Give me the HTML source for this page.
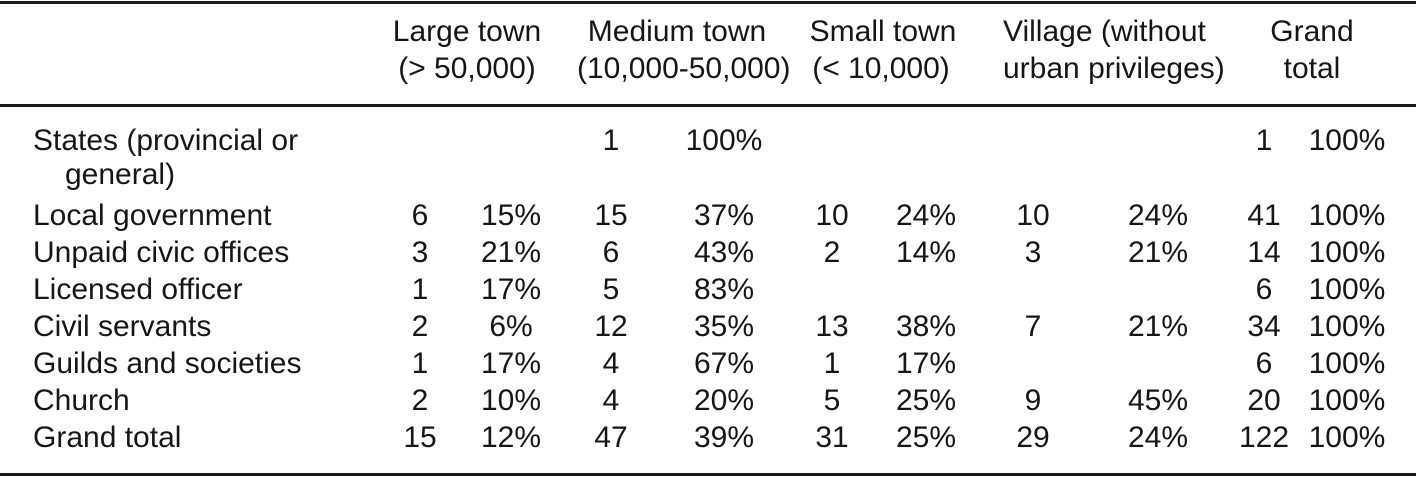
<!DOCTYPE html>
<html>
<head>
<meta charset="utf-8">
<style>
  html, body { margin:0; padding:0; background:#fff; }
  body { width:1416px; height:478px; position:relative; overflow:hidden;
         font-family:"Liberation Sans", Arial, sans-serif; font-size:30px; color:#161616; }
  .t { position:absolute; line-height:30px; white-space:nowrap; }
  .c { width:200px; text-align:center; }
  .rule { position:absolute; left:0; width:1416px; background:#1a1a1a; }
</style>
</head>
<body>
<div class="rule" style="top:1px;height:3px;"></div>
<div class="rule" style="top:104px;height:3px;"></div>
<div class="rule" style="top:473px;height:3px;"></div>

<!-- headers -->
<div class="t c" style="left:367px;top:17px;">Large town</div>
<div class="t c" style="left:367px;top:54px;">(&gt; 50,000)</div>
<div class="t c" style="left:577px;top:17px;">Medium town</div>
<div class="t c" style="left:577px;top:54px;">(10,000-50,000)</div>
<div class="t c" style="left:783px;top:17px;">Small town</div>
<div class="t c" style="left:781px;top:54px;">(&lt; 10,000)</div>
<div class="t c" style="left:1003px;top:17px;">Village (without</div>
<div class="t c" style="left:1003px;top:54px;">urban privileges)</div>
<div class="t c" style="left:1212px;top:17px;">Grand</div>
<div class="t c" style="left:1212px;top:54px;">total</div>

<!-- row labels -->
<div class="t" style="left:33px;top:126px;">States (provincial or</div>
<div class="t" style="left:65px;top:160px;">general)</div>
<div class="t" style="left:33px;top:201px;">Local government</div>
<div class="t" style="left:33px;top:238px;">Unpaid civic offices</div>
<div class="t" style="left:33px;top:275px;">Licensed officer</div>
<div class="t" style="left:33px;top:312px;">Civil servants</div>
<div class="t" style="left:33px;top:349px;">Guilds and societies</div>
<div class="t" style="left:33px;top:386px;">Church</div>
<div class="t" style="left:33px;top:423px;">Grand total</div>

<!-- States row -->
<div class="t c" style="left:511px;top:126px;">1</div>
<div class="t c" style="left:624px;top:126px;">100%</div>
<div class="t c" style="left:1164px;top:126px;">1</div>
<div class="t c" style="left:1247px;top:126px;">100%</div>

<!-- Local government (top 201) -->
<div class="t c" style="left:320px;top:201px;">6</div>
<div class="t c" style="left:411px;top:201px;">15%</div>
<div class="t c" style="left:511px;top:201px;">15</div>
<div class="t c" style="left:624px;top:201px;">37%</div>
<div class="t c" style="left:732px;top:201px;">10</div>
<div class="t c" style="left:826px;top:201px;">24%</div>
<div class="t c" style="left:933px;top:201px;">10</div>
<div class="t c" style="left:1058px;top:201px;">24%</div>
<div class="t c" style="left:1164px;top:201px;">41</div>
<div class="t c" style="left:1247px;top:201px;">100%</div>

<!-- Unpaid civic offices (top 238) -->
<div class="t c" style="left:320px;top:238px;">3</div>
<div class="t c" style="left:411px;top:238px;">21%</div>
<div class="t c" style="left:511px;top:238px;">6</div>
<div class="t c" style="left:624px;top:238px;">43%</div>
<div class="t c" style="left:732px;top:238px;">2</div>
<div class="t c" style="left:826px;top:238px;">14%</div>
<div class="t c" style="left:933px;top:238px;">3</div>
<div class="t c" style="left:1058px;top:238px;">21%</div>
<div class="t c" style="left:1164px;top:238px;">14</div>
<div class="t c" style="left:1247px;top:238px;">100%</div>

<!-- Licensed officer (top 275) -->
<div class="t c" style="left:320px;top:275px;">1</div>
<div class="t c" style="left:411px;top:275px;">17%</div>
<div class="t c" style="left:511px;top:275px;">5</div>
<div class="t c" style="left:624px;top:275px;">83%</div>
<div class="t c" style="left:1164px;top:275px;">6</div>
<div class="t c" style="left:1247px;top:275px;">100%</div>

<!-- Civil servants (top 312) -->
<div class="t c" style="left:320px;top:312px;">2</div>
<div class="t c" style="left:411px;top:312px;">6%</div>
<div class="t c" style="left:511px;top:312px;">12</div>
<div class="t c" style="left:624px;top:312px;">35%</div>
<div class="t c" style="left:732px;top:312px;">13</div>
<div class="t c" style="left:826px;top:312px;">38%</div>
<div class="t c" style="left:933px;top:312px;">7</div>
<div class="t c" style="left:1058px;top:312px;">21%</div>
<div class="t c" style="left:1164px;top:312px;">34</div>
<div class="t c" style="left:1247px;top:312px;">100%</div>

<!-- Guilds and societies (top 349) -->
<div class="t c" style="left:320px;top:349px;">1</div>
<div class="t c" style="left:411px;top:349px;">17%</div>
<div class="t c" style="left:511px;top:349px;">4</div>
<div class="t c" style="left:624px;top:349px;">67%</div>
<div class="t c" style="left:732px;top:349px;">1</div>
<div class="t c" style="left:826px;top:349px;">17%</div>
<div class="t c" style="left:1164px;top:349px;">6</div>
<div class="t c" style="left:1247px;top:349px;">100%</div>

<!-- Church (top 386) -->
<div class="t c" style="left:320px;top:386px;">2</div>
<div class="t c" style="left:411px;top:386px;">10%</div>
<div class="t c" style="left:511px;top:386px;">4</div>
<div class="t c" style="left:624px;top:386px;">20%</div>
<div class="t c" style="left:732px;top:386px;">5</div>
<div class="t c" style="left:826px;top:386px;">25%</div>
<div class="t c" style="left:933px;top:386px;">9</div>
<div class="t c" style="left:1058px;top:386px;">45%</div>
<div class="t c" style="left:1164px;top:386px;">20</div>
<div class="t c" style="left:1247px;top:386px;">100%</div>

<!-- Grand total (top 423) -->
<div class="t c" style="left:320px;top:423px;">15</div>
<div class="t c" style="left:411px;top:423px;">12%</div>
<div class="t c" style="left:511px;top:423px;">47</div>
<div class="t c" style="left:624px;top:423px;">39%</div>
<div class="t c" style="left:732px;top:423px;">31</div>
<div class="t c" style="left:826px;top:423px;">25%</div>
<div class="t c" style="left:933px;top:423px;">29</div>
<div class="t c" style="left:1058px;top:423px;">24%</div>
<div class="t c" style="left:1164px;top:423px;">122</div>
<div class="t c" style="left:1247px;top:423px;">100%</div>
</body>
</html>
